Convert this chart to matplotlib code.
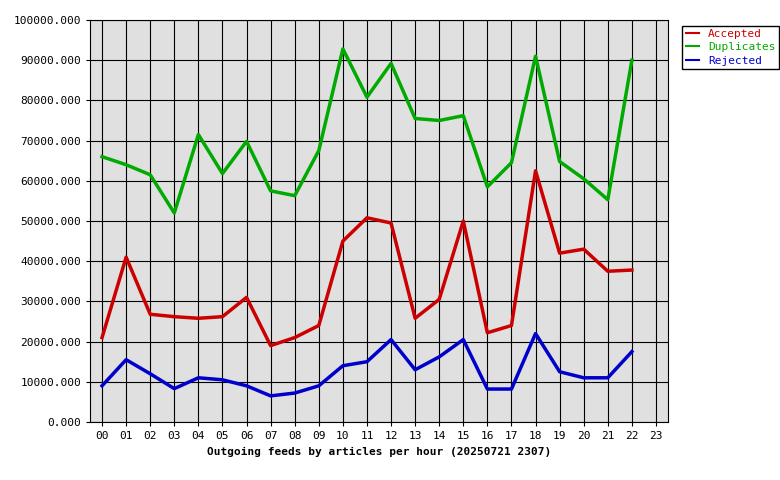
import matplotlib
matplotlib.use("Agg")
import matplotlib.pyplot as plt

hours = list(range(23))
hour_labels = ["%02d" % h for h in range(24)]

accepted = [21000, 41000, 26800, 26200, 25800, 26200, 31000, 19000, 21000, 24000,
            45000, 50800, 49500, 25800, 30500, 50000, 22200, 24000, 62500, 42000,
            43000, 37500, 37800]
duplicates = [66000, 64000, 61500, 52000, 71500, 61800, 69800, 57500, 56300, 67500,
              92800, 80800, 89200, 75500, 75000, 76200, 58500, 64500, 91000, 64800,
              60500, 55300, 90000]
rejected = [9000, 15500, 12000, 8300, 11000, 10500, 9000, 6500, 7200, 9000,
            14000, 15000, 20500, 13000, 16200, 20500, 8200, 8200, 22000, 12500,
            11000, 11000, 17500]

plt.rcParams['font.family'] = 'DejaVu Sans Mono'
plt.rcParams['font.size'] = 8

fig = plt.figure(figsize=(7.8, 4.8), dpi=100)
ax = fig.add_axes([90/780, 58/480, 578/780, 402/480])
ax.set_facecolor('#e0e0e0')

series = [("Accepted", accepted, '#cc0000'),
          ("Duplicates", duplicates, '#00aa00'),
          ("Rejected", rejected, '#0000cc')]
for name, vals, col in series:
    ax.plot(hours, vals, color=col, linewidth=2.5, label=name)

ax.set_xlim(-0.5, 23.5)
ax.set_ylim(0, 100000)
ax.set_xticks(range(24))
ax.set_xticklabels(hour_labels)
ax.set_yticks(range(0, 100001, 10000))
ax.set_yticklabels(["%d.000" % v for v in range(0, 100001, 10000)])
ax.grid(True, color='black', linewidth=0.8)
ax.set_axisbelow(True)
ax.tick_params(length=3)
ax.set_xlabel("Outgoing feeds by articles per hour (20250721 2307)", fontweight='bold')

leg = ax.legend(loc='upper left', bbox_to_anchor=(1.015, 1.0), fancybox=False,
                edgecolor='black', framealpha=1, handlelength=1.2, borderpad=0.3,
                labelspacing=0.3)
for txt, (_, _, col) in zip(leg.get_texts(), series):
    txt.set_color(col)
for line in leg.get_lines():
    line.set_linewidth(1.5)

fig.savefig("out.png", dpi=100)
